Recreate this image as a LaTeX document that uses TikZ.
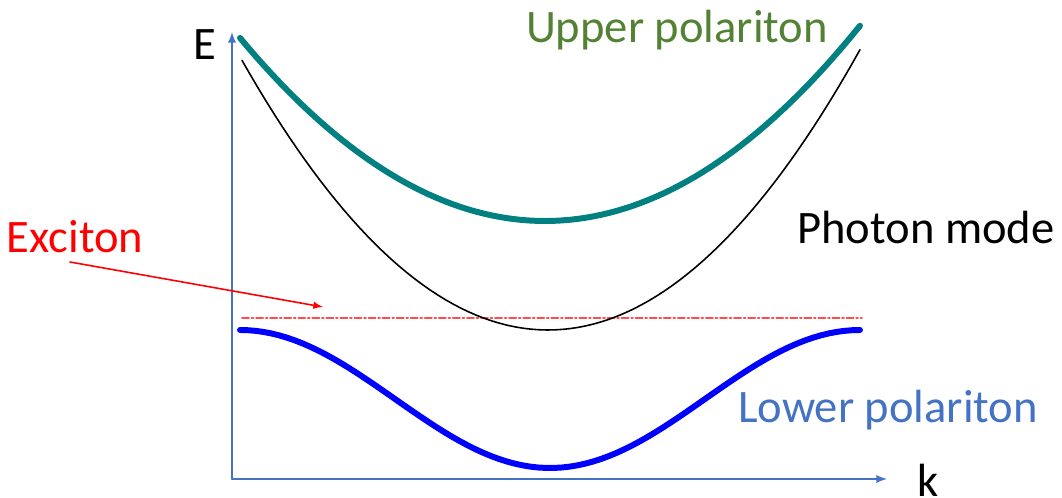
\documentclass[tikz,border=0pt]{standalone}
\usepackage{fontspec}
\setmainfont{Carlito}
\definecolor{axisblue}{HTML}{4472C4}
\definecolor{upteal}{HTML}{008080}
\definecolor{upgreen}{HTML}{548235}
\begin{document}
\begin{tikzpicture}[line cap=round,line join=round,>=latex,
  lbl/.style={font=\fontsize{26.5}{30}\selectfont,inner sep=0pt},
  axisline/.style={axisblue,line width=1.1pt}]
  \useasboundingbox (-4.64,-0.38) rectangle (16.6,9.58);
  % axes
  \coordinate (O) at (0,0);
  \coordinate (ytop) at (0,8.94);
  \coordinate (xend) at (13.1,0);
  \draw[axisline,->] (O) -- (ytop);
  \draw[axisline,->] (O) -- (xend);
  \node[lbl] (Elbl) at (-0.54,8.68) {E};
  \node[lbl] (klbl) at (13.92,-0.02) {k};
  % exciton level
  \draw[red!70,line width=1pt,dash pattern=on 4pt off 1.5pt on 1pt off 1.5pt] (0.2,3.22) -- (12.6,3.22);
  % photon mode
  \draw[black,line width=0.9pt] plot[domain=0.2:12.56,samples=80] (\x,{2.98+0.144*(\x-6.32)^2});
  % upper polariton
  \draw[upteal,line width=3.4pt] plot[domain=0.16:12.56,samples=80] (\x,{5.16+0.0984*(\x-6.26)^2});
  % lower polariton
  \draw[blue,line width=3.4pt] plot[domain=0.16:12.56,samples=80] (\x,{0.22+1.38*(1+cos(360*(\x-0.16)/12.4))});
  % labels
  \node[lbl,upgreen] (uplbl) at (8.9,8.98) {Upper polariton};
  \node[lbl] (phlbl) at (13.88,5.02) {Photon mode};
  \node[lbl,axisblue] (lplbl) at (13.12,1.38) {Lower polariton};
  \node[lbl,red] (exlbl) at (-3.14,4.84) {Exciton};
  \coordinate (exstart) at (-3.24,4.34);
  \coordinate (extip) at (1.82,3.44);
  \draw[red,line width=0.9pt,->] (exstart) -- (extip);
\end{tikzpicture}
\end{document}
